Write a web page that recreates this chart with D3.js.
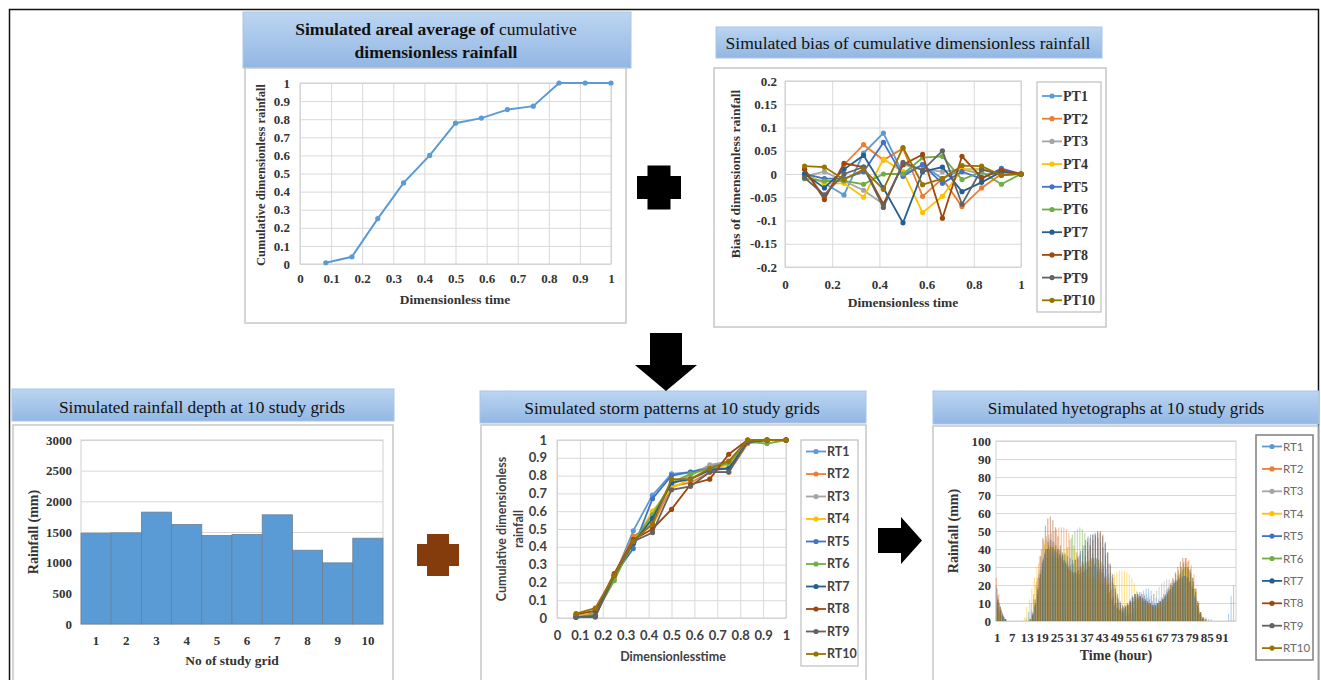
<!DOCTYPE html>
<html>
<head>
<meta charset="utf-8">
<script src="https://cdn.jsdelivr.net/npm/d3@7"></script>
<style>
body{margin:0;background:#fff}
svg{font-family:"Liberation Serif","Times New Roman",serif}
</style>
</head>
<body>
<div class="canvas"></div>
<script>
// ---- data ----
const dimTime = [0.083,0.167,0.25,0.333,0.417,0.5,0.583,0.667,0.75,0.833,0.917,1];
const arealAvg = [0.007,0.04,0.251,0.448,0.60,0.778,0.806,0.853,0.872,1,1,1];

const ptNames = ['PT1','PT2','PT3','PT4','PT5','PT6','PT7','PT8','PT9','PT10'];
const biasPT1  = [0,-0.02,-0.045,0.045,0.088,0,0.02,-0.01,0.01,0.01,0,0];
const biasPT2  = [0.01,-0.05,0.02,0.063,0.03,0.055,-0.048,-0.01,-0.07,-0.03,0,0];
const biasPT3  = [-0.005,0.005,-0.015,-0.035,-0.065,0.02,0.01,0.005,0.01,0,0,0];
const biasPT4  = [0,-0.02,-0.02,-0.05,0.032,0.005,-0.083,-0.048,0.01,0.01,0,0];
const biasPT5  = [0,-0.01,-0.01,0.005,0.068,-0.005,0.02,-0.02,0.005,-0.01,0.012,0];
const biasPT6  = [-0.01,-0.015,-0.015,-0.022,0,0,0.035,0.038,-0.012,0.005,-0.022,0];
const biasPT7  = [0,-0.03,0.01,0.04,-0.03,-0.105,0.005,0.015,-0.038,-0.018,0.005,0];
const biasPT8  = [0.01,-0.055,0.023,0.015,-0.065,0.02,0.042,-0.095,0.038,-0.008,0.008,0];
const biasPT9  = [-0.008,-0.045,0,0.015,-0.072,0.025,0.008,0.05,-0.065,0.01,-0.002,0];
const biasPT10 = [0.017,0.015,-0.012,0.01,-0.033,0.057,-0.023,-0.01,0.018,0.017,-0.003,0];
const biasSeries = [biasPT1,biasPT2,biasPT3,biasPT4,biasPT5,biasPT6,biasPT7,biasPT8,biasPT9,biasPT10];

const gridIds = [1,2,3,4,5,6,7,8,9,10];
const rainDepth = [1481,1486,1824,1622,1443,1459,1780,1203,996,1399];

const rtNames = ['RT1','RT2','RT3','RT4','RT5','RT6','RT7','RT8','RT9','RT10'];
const stormRT1  = [0.005,0.03,0.23,0.49,0.69,0.81,0.82,0.85,0.88,1,1,1];
const stormRT2  = [0.01,0.02,0.24,0.46,0.52,0.74,0.76,0.82,0.82,0.98,1,1];
const stormRT3  = [0.01,0.02,0.22,0.43,0.55,0.75,0.80,0.86,0.88,1,1,1];
const stormRT4  = [0.01,0.02,0.23,0.42,0.60,0.73,0.78,0.84,0.86,1,1,1];
const stormRT5  = [0.005,0.01,0.24,0.39,0.67,0.80,0.82,0.84,0.84,0.99,1,1];
const stormRT6  = [0.005,0.02,0.21,0.43,0.58,0.76,0.81,0.84,0.87,0.99,0.98,1];
const stormRT7  = [0.005,0.01,0.24,0.42,0.56,0.76,0.78,0.83,0.84,0.99,1,1];
const stormRT8  = [0.02,0.04,0.25,0.44,0.50,0.61,0.75,0.78,0.92,1,1,1];
const stormRT9  = [0.005,0.005,0.24,0.43,0.48,0.72,0.74,0.82,0.82,0.99,1,1];
const stormRT10 = [0.025,0.055,0.24,0.43,0.53,0.78,0.78,0.84,0.88,1,1,1];
const stormSeries = [stormRT1,stormRT2,stormRT3,stormRT4,stormRT5,stormRT6,stormRT7,stormRT8,stormRT9,stormRT10];

const hourTicks = [1,7,13,19,25,31,37,43,49,55,61,67,73,79,85,91];
const hyetoRT1 = [20,12,6,2,1,0,0,0,0,0,0,0, 2,5,10,15,20,26,30,34,36,38,38,37, 36,35,34,32,30,28,26,25,24,24,25,27,
  29,31,33,34,35,34,33,31,29,26,22,18, 14,10,7,5,4,4,5,7,10,13,16,17, 18,18,17,15,13,12,13,15,17,19,20,21,
  22,23,24,25,25,24,22,18,12,6,2,1, 2,1,1,0,0,0,0,0,0,4,14,20];
const hyetoRT2 = [24,15,6,2,0,0,0,0,0,0,0,0, 0,0,5,12,22,32,40,45,47,48,49,50, 51,52,52,52,51,49,46,42,38,34,30,27,
  25,24,24,25,26,27,27,26,24,21,18,14, 10,7,5,4,3,3,4,5,7,9,10,11, 11,10,9,8,7,7,8,9,11,13,16,19,
  22,26,30,33,35,34,31,26,18,10,4,2, 1,0,0,0,0,0,0,0,0,0,0,0];
const hyetoRT3 = [10,6,3,1,0,0,0,0,0,0,0,0, 0,2,6,12,20,28,36,42,45,46,45,44, 42,40,38,36,34,33,32,31,30,30,31,32,
  33,34,35,35,34,32,29,25,21,17,13,10, 8,6,5,5,6,7,9,11,13,14,15,15, 15,14,14,15,17,19,21,22,23,23,22,21,
  20,19,19,20,21,21,19,16,12,7,3,1, 0,0,0,0,0,0,0,0,0,0,0,0];
const hyetoRT4 = [5,3,1,0,0,0,0,0,0,0,0,2, 8,12,18,24,30,36,40,43,44,44,43,42, 41,40,40,40,40,41,41,40,38,36,33,30,
  28,26,24,23,22,22,22,22,23,24,25,26, 27,28,28,28,27,26,24,21,17,13,10,8, 7,6,6,6,7,8,9,10,11,12,14,17,
  20,24,28,30,30,28,24,18,11,5,2,1, 0,0,0,0,0,0,0,0,0,0,0,0];
const hyetoRT5 = [18,10,5,2,0,0,0,0,0,0,0,0, 0,0,3,8,15,24,32,37,40,40,40,39, 38,37,36,34,32,30,28,27,26,26,27,28,
  29,30,30,31,30,29,27,24,20,16,12,9, 7,6,6,7,9,11,13,15,16,16,15,14, 13,12,11,10,10,11,12,14,16,18,20,22,
  23,24,25,25,24,22,19,14,9,4,1,0, 0,0,0,0,0,0,0,0,0,0,0,0];
const hyetoRT6 = [8,5,2,1,0,0,0,0,0,0,0,0, 0,1,3,8,14,22,28,32,35,36,36,35, 35,35,36,38,41,45,48,50,51,52,51,49,
  46,42,37,32,28,24,21,18,15,13,11,9, 7,6,6,7,8,10,11,12,13,13,12,11, 10,9,8,8,9,10,11,13,15,17,19,21,
  23,26,28,30,30,28,24,18,11,5,2,0, 0,0,0,0,0,0,0,0,0,0,0,0];
const hyetoRT7 = [12,8,4,1,0,0,0,0,0,0,0,0, 0,1,4,10,18,26,33,38,40,41,41,40, 40,39,38,37,36,35,34,34,35,37,39,42,
  44,46,48,49,50,49,47,43,38,32,26,20, 15,11,9,9,10,12,14,15,15,14,13,12, 11,10,9,9,10,11,12,13,15,17,19,21,
  22,23,24,25,24,22,18,13,8,4,1,0, 0,0,0,0,0,0,0,0,0,0,0,0];
const hyetoRT8 = [14,8,3,1,0,0,0,0,0,0,0,0, 0,1,5,12,24,36,46,53,57,58,56,52, 47,42,37,33,30,28,27,27,28,30,33,36,
  39,42,45,48,49,50,48,44,38,31,24,18, 13,10,8,8,9,11,13,15,15,14,13,12, 11,10,9,9,10,11,13,15,18,21,24,27,
  30,33,35,35,33,29,24,18,11,5,2,1, 0,0,0,0,0,0,0,0,0,0,0,0];
const hyetoRT9 = [10,6,3,1,0,0,0,0,0,0,0,0, 0,0,3,9,17,26,34,40,44,45,44,42, 40,37,34,32,31,31,32,34,36,39,42,45,
  47,48,48,47,46,44,41,37,32,27,21,16, 12,9,8,8,9,11,13,14,14,13,12,11, 10,9,9,9,10,11,12,14,16,18,21,23,
  25,27,29,30,29,26,22,16,10,5,2,0, 0,0,0,0,0,0,0,0,0,0,0,0];
const hyetoRT10 = [11,7,3,1,0,0,0,0,0,0,0,0, 0,1,4,10,19,28,35,40,42,42,41,39, 37,35,33,31,29,28,27,27,28,29,31,32,
  33,34,35,35,34,32,29,25,21,17,13,10, 8,7,7,8,9,10,11,12,12,12,11,10, 9,9,8,8,9,10,12,14,17,20,23,26,
  28,30,32,32,30,27,22,16,10,5,2,1, 0,0,0,0,0,0,0,0,0,0,0,0];
const hyetoSeries = [hyetoRT1,hyetoRT2,hyetoRT3,hyetoRT4,hyetoRT5,hyetoRT6,hyetoRT7,hyetoRT8,hyetoRT9,hyetoRT10];

const officeColors = ['#5b9bd5','#ed7d31','#a5a5a5','#ffc000','#4472c4','#70ad47','#255e91','#9e480e','#636363','#997300'];

// ---- svg ----
const svg = d3.select('.canvas').append('svg')
  .attr('width',1321)
  .attr('height',680);

const grad = svg.append('defs').append('linearGradient')
  .attr('id','titleFill').attr('x1',0).attr('y1',0).attr('x2',0).attr('y2',1);
grad.append('stop').attr('offset','0%').attr('stop-color','#bcd5f1');
grad.append('stop').attr('offset','100%').attr('stop-color','#92b7e3');

// outer frame
svg.append('rect').attr('x',9.5).attr('y',9.5).attr('width',1309).attr('height',690)
  .attr('fill','none').attr('stroke','#111').attr('stroke-width',1.5);

const serifBold = g => g.style('font-family','"Liberation Serif","Times New Roman",serif').attr('font-weight','bold').attr('fill','#333');
const sansBold = g => g.style('font-family','Lato,"Liberation Sans",Arial,sans-serif').attr('font-weight','bold').attr('fill','#404040');
const sansPlain = g => g.style('font-family','Lato,"Liberation Sans",Arial,sans-serif').attr('fill','#6a6a6a');

const titleBox = (b) => {
  svg.append('rect').attr('x',b.x).attr('y',b.y).attr('width',b.w).attr('height',b.h)
    .attr('fill','url(#titleFill)').attr('stroke','#a8c5e9').attr('stroke-width',1);
};
const chartBox = (b) => {
  svg.append('rect').attr('x',b.x).attr('y',b.y).attr('width',b.w).attr('height',b.h)
    .attr('fill','#fff').attr('stroke','#c6c6c6').attr('stroke-width',1.5);
};

// gridded axes helper
const drawAxes = (p, x, y, xt, yt, fx, fy, o) => {
  const g = svg.append('g');
  g.append('g').attr('transform',`translate(0,${p.y1})`)
    .call(d3.axisBottom(x).tickValues(o.vgrid ? xt : []).tickSize(-(p.y1-p.y0)).tickFormat(''))
    .call(a=>a.select('.domain').remove())
    .call(a=>a.selectAll('.tick line').attr('stroke','#d9d9d9'));
  g.append('g').attr('transform',`translate(${p.x0},0)`)
    .call(d3.axisLeft(y).tickValues(yt).tickSize(-(p.x1-p.x0)).tickPadding(o.ypad).tickFormat(fy))
    .call(a=>a.select('.domain').remove())
    .call(a=>a.selectAll('.tick line').attr('stroke','#d9d9d9'))
    .call(a=>a.selectAll('.tick text').attr('font-size',o.fs).call(o.font));
  g.append('g').attr('transform',`translate(0,${p.y1})`)
    .call(d3.axisBottom(x).tickValues(xt).tickSize(0).tickPadding(o.xpad).tickFormat(fx))
    .call(a=>a.select('.domain').remove())
    .call(a=>a.selectAll('.tick text').attr('font-size',o.fs).call(o.font));
  g.append('rect').attr('x',p.x0).attr('y',p.y0).attr('width',p.x1-p.x0).attr('height',p.y1-p.y0)
    .attr('fill','none').attr('stroke','#d0d0d0');
  return g;
};
const fmt = d => String(+d.toFixed(2));

const axisTitleX = (txt, x, y, fs, font) => svg.append('text').attr('x',x).attr('y',y)
  .attr('text-anchor','middle').attr('font-size',fs).call(font).text(txt);
const axisTitleY = (lines, x, y, fs, font, lh) => {
  const t = svg.append('text').attr('transform',`translate(${x},${y}) rotate(-90)`)
    .attr('text-anchor','middle').attr('font-size',fs).call(font);
  lines.forEach((l,i)=> t.append('tspan').attr('x',0).attr('y',(i-(lines.length-1)/2)*lh).text(l));
};

const legend = (box, names, step, o) => {
  svg.append('rect').attr('x',box.x).attr('y',box.y).attr('width',box.w).attr('height',box.h)
    .attr('fill','#fff').attr('stroke',o.stroke).attr('stroke-width',o.sw);
  names.forEach((n,i)=>{
    const yy = o.y0 + i*step;
    svg.append('line').attr('x1',o.lx).attr('x2',o.lx+20).attr('y1',yy).attr('y2',yy)
      .attr('stroke',officeColors[i]).attr('stroke-width',1.8);
    svg.append('circle').attr('cx',o.lx+10).attr('cy',yy).attr('r',2.6).attr('fill',officeColors[i]);
    svg.append('text').attr('x',o.lx+21).attr('y',yy).attr('dy','0.35em')
      .attr('font-size',o.fs).call(o.font).text(n);
  });
};

// ===== Panel 1: areal average =====
titleBox({x:243,y:12,w:388,h:56});
chartBox({x:245,y:68,w:381,h:255});
const t1 = svg.append('text').attr('x',436).attr('y',35).attr('text-anchor','middle').attr('font-size',17.5).attr('fill','#111');
t1.append('tspan').attr('font-weight','bold').text('Simulated areal average  of ');
t1.append('tspan').text('cumulative');
svg.append('text').attr('x',436).attr('y',58).attr('text-anchor','middle').attr('font-size',17.5)
  .attr('font-weight','bold').attr('fill','#111').text('dimensionless rainfall');

const p1 = {x0:300,x1:611,y0:83,y1:264};
const x1s = d3.scaleLinear().domain([0,1]).range([p1.x0,p1.x1]);
const y1s = d3.scaleLinear().domain([0,1]).range([p1.y1,p1.y0]);
const tenth = d3.range(0,11).map(d=>d/10);
drawAxes(p1,x1s,y1s,tenth,tenth,fmt,fmt,{vgrid:true,ypad:10,xpad:10,fs:13,font:serifBold});
svg.append('path').datum(arealAvg)
  .attr('fill','none').attr('stroke',officeColors[0]).attr('stroke-width',2)
  .attr('d',d3.line().x((d,i)=>x1s(dimTime[i])).y(d=>y1s(d)));
svg.append('g').selectAll('circle').data(arealAvg).join('circle')
  .attr('cx',(d,i)=>x1s(dimTime[i])).attr('cy',d=>y1s(d)).attr('r',2.6).attr('fill',officeColors[0]);
axisTitleX('Dimensionless time',455,304,13.5,serifBold);
axisTitleY(['Cumulative dimensionless rainfall'],265,175,12.5,serifBold,12);

// ===== Panel 2: bias =====
titleBox({x:716,y:27,w:386,h:31});
svg.append('text').attr('x',908).attr('y',49).attr('text-anchor','middle').attr('font-size',17.6)
  .attr('fill','#111').text('Simulated bias of cumulative dimensionless rainfall');
chartBox({x:714,y:68,w:392,h:259});
const p2 = {x0:785,x1:1021,y0:81,y1:267};
const x2s = d3.scaleLinear().domain([0,1]).range([p2.x0,p2.x1]);
const y2s = d3.scaleLinear().domain([-0.2,0.2]).range([p2.y1,p2.y0]);
drawAxes(p2,x2s,y2s,[0,0.2,0.4,0.6,0.8,1],d3.range(-4,5).map(d=>d*0.05),fmt,fmt,
  {vgrid:true,ypad:8,xpad:13,fs:13,font:serifBold});
const line2 = d3.line().x((d,i)=>x2s(dimTime[i])).y(d=>y2s(d));
biasSeries.forEach((s,k)=>{
  svg.append('path').datum(s).attr('fill','none').attr('stroke',officeColors[k]).attr('stroke-width',1.8).attr('d',line2);
  svg.append('g').selectAll('circle').data(s).join('circle')
    .attr('cx',(d,i)=>x2s(dimTime[i])).attr('cy',d=>y2s(d)).attr('r',2.6).attr('fill',officeColors[k]);
});
axisTitleX('Dimensionless time',903,307,13.5,serifBold);
axisTitleY(['Bias of dimensionless rainfall'],740,174,13.5,serifBold,12);
legend({x:1037,y:82,w:64,h:230},ptNames,22.7,{y0:96,lx:1042,fs:14,stroke:'#bfbfbf',sw:1.2,font:serifBold});

// ===== Panel 3: rainfall depth =====
titleBox({x:12,y:389,w:382,h:32});
svg.append('text').attr('x',202).attr('y',413).attr('text-anchor','middle').attr('font-size',17.3)
  .attr('fill','#111').text('Simulated rainfall depth at 10 study grids');
chartBox({x:13,y:425,w:380,h:262});
const p3 = {x0:81,x1:383,y0:440,y1:624};
const x3s = d3.scaleBand().domain(gridIds).range([p3.x0,p3.x1]).padding(0);
const y3s = d3.scaleLinear().domain([0,3000]).range([p3.y1,p3.y0]);
drawAxes(p3,x3s,y3s,gridIds,d3.range(0,3001,500),d=>d,d=>d,
  {vgrid:false,ypad:9,xpad:12,fs:13,font:serifBold});
svg.append('g').selectAll('rect').data(rainDepth).join('rect')
  .attr('x',(d,i)=>x3s(gridIds[i])).attr('width',x3s.bandwidth())
  .attr('y',d=>y3s(d)).attr('height',d=>y3s(0)-y3s(d))
  .attr('fill','#5b9bd5').attr('stroke','#6d7f92').attr('stroke-width',0.8);
axisTitleX('No of study grid',232,665,13.5,serifBold);
axisTitleY(['Rainfall (mm)'],38,532,14,serifBold,12);

// ===== Panel 4: storm patterns =====
titleBox({x:480,y:391,w:386,h:32});
svg.append('text').attr('x',672).attr('y',414).attr('text-anchor','middle').attr('font-size',17.5)
  .attr('fill','#111').text('Simulated storm patterns at 10 study grids');
chartBox({x:481,y:425,w:385,h:262});
const p4 = {x0:557,x1:786,y0:440,y1:618};
const x4s = d3.scaleLinear().domain([0,1]).range([p4.x0,p4.x1]);
const y4s = d3.scaleLinear().domain([0,1]).range([p4.y1,p4.y0]);
drawAxes(p4,x4s,y4s,tenth,tenth,fmt,fmt,{vgrid:true,ypad:10,xpad:13,fs:13,font:sansBold});
const line4 = d3.line().x((d,i)=>x4s(dimTime[i])).y(d=>y4s(d));
stormSeries.forEach((s,k)=>{
  svg.append('path').datum(s).attr('fill','none').attr('stroke',officeColors[k]).attr('stroke-width',1.8).attr('d',line4);
  svg.append('g').selectAll('circle').data(s).join('circle')
    .attr('cx',(d,i)=>x4s(dimTime[i])).attr('cy',d=>y4s(d)).attr('r',2.6).attr('fill',officeColors[k]);
});
axisTitleX('Dimensionlesstime',673,661,12.5,sansBold);
axisTitleY(['Cumulative dimensionless','rainfall'],514,529,12.5,sansBold,17);
legend({x:801,y:440,w:57,h:226},rtNames,22.5,{y0:451.5,lx:806,fs:12.5,stroke:'#bfbfbf',sw:1.2,font:sansBold});

// ===== Panel 5: hyetographs =====
titleBox({x:933,y:391,w:386,h:33});
svg.append('text').attr('x',1126).attr('y',414).attr('text-anchor','middle').attr('font-size',17.2)
  .attr('fill','#111').text('Simulated hyetographs at 10 study grids');
chartBox({x:933,y:426,w:385,h:262});
const hours = d3.range(1,97);
const p5 = {x0:996,x1:1236,y0:441,y1:621};
const x5s = d3.scaleBand().domain(hours).range([p5.x0,p5.x1]).padding(0);
const x5sub = d3.scaleBand().domain(d3.range(10)).range([0,x5s.bandwidth()]);
const y5s = d3.scaleLinear().domain([0,100]).range([p5.y1,p5.y0]);
drawAxes(p5,x5s,y5s,hourTicks,d3.range(0,101,10),d=>d,d=>d,{vgrid:false,ypad:5,xpad:12,fs:13,font:serifBold});
hyetoSeries.forEach((s,k)=>{
  svg.append('g').selectAll('rect').data(s).join('rect')
    .attr('x',(d,i)=>x5s(hours[i])+x5sub(k)-0.4).attr('width',1)
    .attr('y',d=>y5s(d)).attr('height',d=>y5s(0)-y5s(d))
    .attr('fill',officeColors[k]).attr('fill-opacity',0.5);
});
axisTitleX('Time (hour)',1116,660,14,serifBold);
axisTitleY(['Rainfall (mm)'],958,531,14,serifBold,12);
legend({x:1256,y:435,w:57,h:225},rtNames,22.4,
  {y0:446.5,lx:1262,fs:11.5,stroke:'#7f7f7f',sw:1.5,font:sansPlain});

// ===== connectors =====
const plus = (cx,cy,s,a,fill) => {
  const h = s/2, t = a/2;
  const pts = [[-t,-h],[t,-h],[t,-t],[h,-t],[h,t],[t,t],[t,h],[-t,h],[-t,t],[-h,t],[-h,-t],[-t,-t]];
  svg.append('polygon').attr('points',pts.map(p=>[cx+p[0],cy+p[1]].join(',')).join(' ')).attr('fill',fill);
};
plus(659,187.5,44,23,'#000');
svg.append('polygon')
  .attr('points','650,333 682,333 682,365 697,365 666,391 635,365 650,365').attr('fill','#000');
plus(438,555,42,22,'#843c0c');
svg.append('polygon')
  .attr('points','878,528 901,528 901,517 922,540.5 901,564 901,553 878,553').attr('fill','#000');
</script>
</body>
</html>
